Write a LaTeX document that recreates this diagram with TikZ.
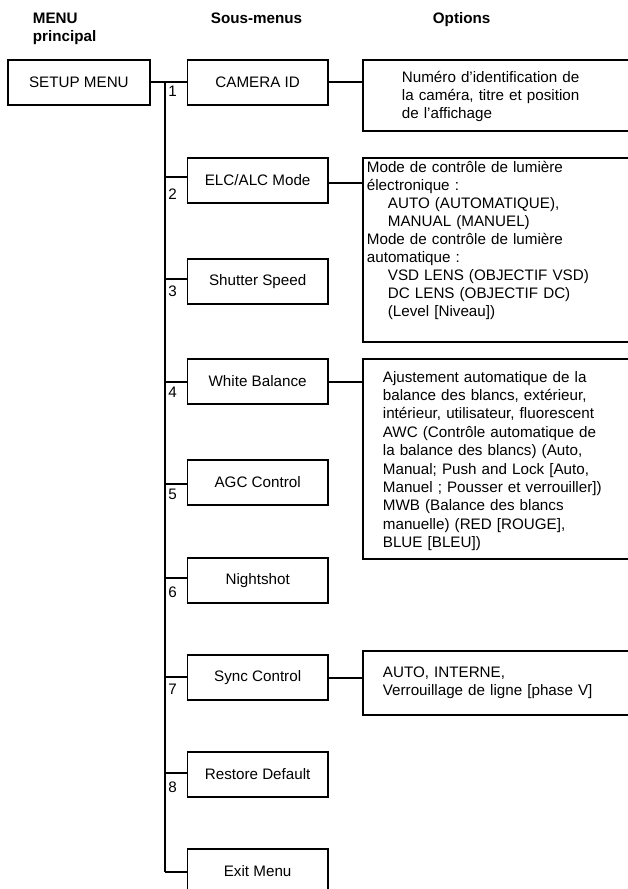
\documentclass[tikz,border=0pt]{standalone}
\usepackage{fontspec}
\setmainfont{Liberation Sans}
\newcommand\dgfont{\fontsize{15.2}{18}\selectfont}
\newcommand\dgfontb{\fontsize{15.2}{18.4}\selectfont}
\begin{document}
\begin{tikzpicture}[x=1pt,y=-1pt,line width=1.8pt,
  sub/.style={draw,rectangle,minimum width=140.5pt,minimum height=45pt,inner sep=0pt,anchor=north west,font=\dgfont},
  main/.style={draw,rectangle,minimum width=142pt,minimum height=45pt,inner sep=0pt,anchor=north west,font=\dgfont},
  optbox/.style={draw,rectangle,inner sep=0pt,anchor=north west,minimum width=300pt},
  otext/.style={anchor=base west,inner sep=0pt,text width=262pt,align=left,font=\dgfont},
  num/.style={inner sep=0pt,font=\dgfont,text height=10.9pt,text depth=0pt,anchor=center},
  head/.style={inner sep=0pt,font=\dgfont\bfseries}]
\useasboundingbox (0,0) rectangle (628,889);
\clip (0,0) rectangle (628,889);

% headers
\node[head,anchor=base west] (h1) at (32,23) {MENU};
\node[head,anchor=base west] (h2) at (32,41.5) {principal};
\node[head,anchor=base] (h3) at (256.5,23) {Sous-menus};
\node[head,anchor=base west] (h4) at (432,23) {Options};

% main menu
\node[main] (setup) at (7,59) {SETUP MENU};

% submenus
\node[sub] (s1) at (186.5,59) {CAMERA ID};
\node[sub] (s2) at (186.5,157) {ELC/ALC Mode};
\node[sub] (s3) at (186.5,258) {Shutter Speed};
\node[sub] (s4) at (186.5,358) {White Balance};
\node[sub] (s5) at (186.5,459) {AGC Control};
\node[sub] (s6) at (186.5,557) {Nightshot};
\node[sub] (s7) at (186.5,654) {Sync Control};
\node[sub] (s8) at (186.5,751) {Restore Default};
\node[sub] (s9) at (186.5,848) {Exit Menu};

% bus coordinates
\coordinate (b1) at (165,82);
\coordinate (b2) at (165,177);
\coordinate (b3) at (165,279);
\coordinate (b4) at (165,382);
\coordinate (b5) at (165,484);
\coordinate (b6) at (165,578);
\coordinate (b7) at (165,677);
\coordinate (b8) at (165,773);
\coordinate (b9) at (165,872);

\draw (setup.east |- b1) -- (b1);
\draw (b1) -- (b9);
\draw (b1) -- (b1 -| s1.west);
\draw (b2) -- (b2 -| s2.west);
\draw (b3) -- (b3 -| s3.west);
\draw (b4) -- (b4 -| s4.west);
\draw (b5) -- (b5 -| s5.west);
\draw (b6) -- (b6 -| s6.west);
\draw (b7) -- (b7 -| s7.west);
\draw (b8) -- (b8 -| s8.west);
\draw (b9) -- (b9 -| s9.west);

% numbers
\node[num] (n1) at (172.5,91.5) {1};
\node[num] (n2) at (172.5,194) {2};
\node[num] (n3) at (172.5,291) {3};
\node[num] (n4) at (172.5,392) {4};
\node[num] (n5) at (172.5,494) {5};
\node[num] (n6) at (172.5,592) {6};
\node[num] (n7) at (172.5,689.5) {7};
\node[num] (n8) at (172.5,787.5) {8};

% option boxes
\node[optbox,minimum height=71pt] (o1) at (362,59) {};
\node[optbox,minimum height=184pt] (o2) at (362,157) {};
\node[optbox,minimum height=200pt] (o3) at (362,358) {};
\node[optbox,minimum height=64pt] (o4) at (362,650) {};

\coordinate (c1) at (327,82);
\coordinate (c2) at (327,183);
\coordinate (c4) at (327,382);
\coordinate (c7) at (327,678);
\draw (c1) -- (c1 -| o1.west);
\draw (c2) -- (c2 -| o2.west);
\draw (c4) -- (c4 -| o3.west);
\draw (c7) -- (c7 -| o4.west);

% option texts
\node[otext] (t1) at (401,82) {Numéro d’identification de\\la caméra, titre et position\\de l’affichage};
\node[otext] (t2) at (366,172) {Mode de contrôle de lumière\\électronique :\\\hspace*{21pt}AUTO (AUTOMATIQUE),\\\hspace*{21pt}MANUAL (MANUEL)\\Mode de contrôle de lumière\\automatique :\\\hspace*{21pt}VSD LENS (OBJECTIF VSD)\\\hspace*{21pt}DC LENS (OBJECTIF DC)\\\hspace*{21pt}(Level [Niveau])};
\node[otext,font=\dgfontb] (t3) at (382,382) {Ajustement automatique de la\\balance des blancs, extérieur,\\intérieur, utilisateur, fluorescent\\AWC (Contrôle automatique de\\la balance des blancs) (Auto,\\Manual; Push and Lock [Auto,\\Manuel ; Pousser et verrouiller])\\MWB (Balance des blancs\\manuelle) (RED [ROUGE],\\BLUE [BLEU])};
\node[otext] (t4) at (382,677) {AUTO, INTERNE,\\Verrouillage de ligne [phase V]};
\end{tikzpicture}
\end{document}
